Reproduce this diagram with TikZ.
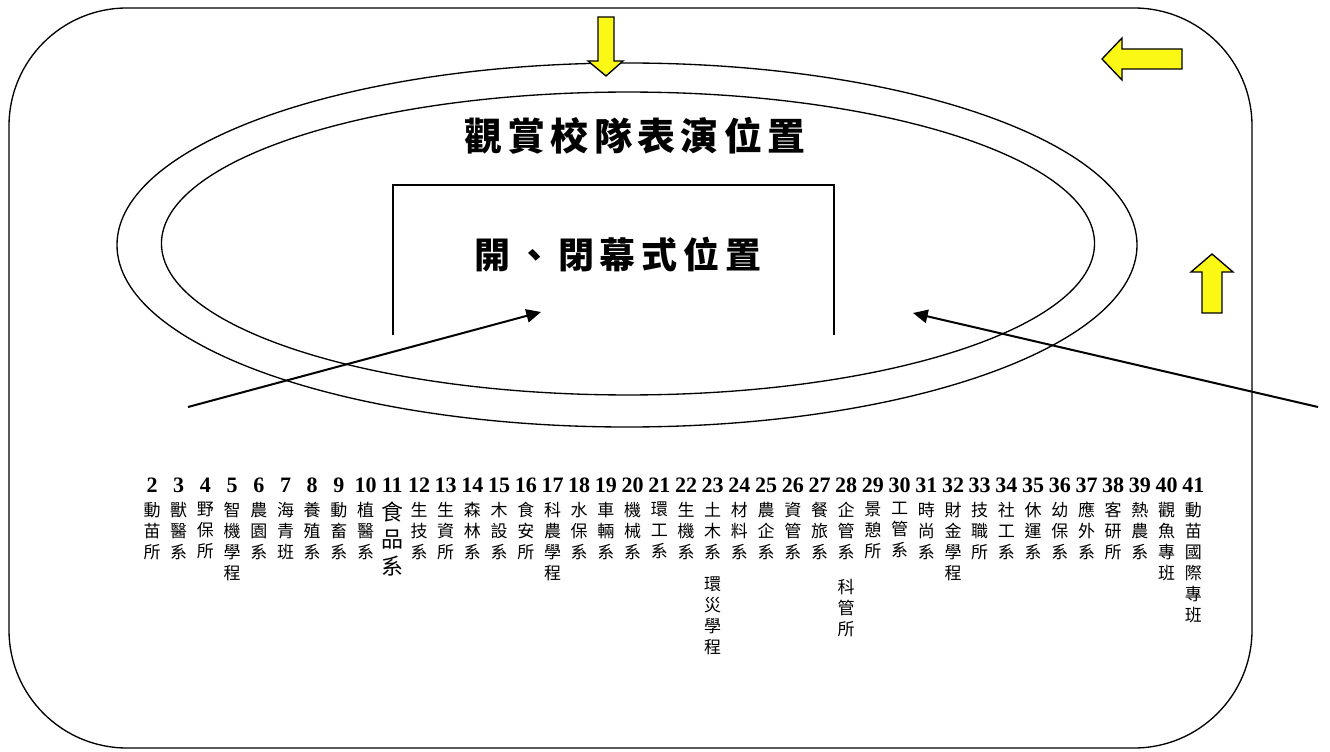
\documentclass[tikz,border=0pt]{standalone}
\usepackage{fontspec}
\newfontfamily\cjk{Noto Sans CJK TC}
\newfontfamily\numfont{Liberation Serif}
\usetikzlibrary{arrows.meta}
\definecolor{arrowyellow}{RGB}{250,248,20}
\tikzset{
  frame/.style={line width=1pt},
  track/.style={line width=1pt},
  pointer/.style={line width=1.5pt,-{Triangle[length=11pt,width=10pt]}},
  flowarrow/.style={fill=arrowyellow,draw=black,line width=1pt,line join=miter},
  titletext/.style={inner sep=0pt,anchor=base,font=\cjk\bfseries\fontsize{28.5pt}{34pt}\selectfont\addfontfeature{LetterSpace=14}},
  boxtext/.style={inner sep=0pt,anchor=base,font=\cjk\bfseries\fontsize{27pt}{32pt}\selectfont\addfontfeature{LetterSpace=16}},
  numtext/.style={inner sep=0pt,anchor=base,font=\numfont\bfseries\fontsize{16.5pt}{18pt}\selectfont},
  deptext/.style={inner sep=0pt,anchor=north,align=center,font=\cjk\fontsize{12.75pt}{15.75pt}\selectfont},
  bigdept/.style={inner sep=0pt,anchor=north,align=center,font=\cjk\fontsize{16.5pt}{20.25pt}\selectfont}
}
\begin{document}
\begin{tikzpicture}[x=0.75pt,y=-0.75pt]
\useasboundingbox (0,0) rectangle (1330,752);
% outer frame
\draw[frame,rounded corners=88.5pt] (9,8) rectangle (1252,748);
% tracks
\draw[track] (627,245) ellipse [x radius=382.5pt, y radius=136.5pt];
\draw[track] (628,243.5) ellipse [x radius=349.9pt, y radius=113.6pt];
% stage box (open at bottom)
\draw[track] (393,335) -- (393,185) -- (834,185) -- (834,335);
% titles
\node[titletext] (watch) at (635,151) {觀賞校隊表演位置};
\node[boxtext] (ceremony) at (618,268) {開、閉幕式位置};
% pointers
\coordinate (lstart) at (188,407);
\coordinate (lend) at (541,312);
\coordinate (rstart) at (1318,407);
\coordinate (rend) at (913,313);
\draw[pointer] (lstart) -- (lend);
\draw[pointer] (rstart) -- (rend);
% yellow direction arrows
\draw[flowarrow] (598,17) -- (614,17) -- (614,61) -- (623,61) -- (606,76) -- (588,61) -- (598,61) -- cycle;
\draw[flowarrow] (1182,49) -- (1122,49) -- (1122,38) -- (1102,59) -- (1122,80) -- (1122,69) -- (1182,69) -- cycle;
\draw[flowarrow] (1202,313) -- (1222,313) -- (1222,272) -- (1233,272) -- (1212,254) -- (1191,272) -- (1202,272) -- cycle;
% department columns
\foreach \n/\t in {2/{動\\苗\\所},3/{獸\\醫\\系},4/{野\\保\\所},5/{智\\機\\學\\程},6/{農\\園\\系},7/{海\\青\\班},8/{養\\殖\\系},9/{動\\畜\\系},10/{植\\醫\\系},
  12/{生\\技\\系},13/{生\\資\\所},14/{森\\林\\系},15/{木\\設\\系},16/{食\\安\\所},17/{科\\農\\學\\程},18/{水\\保\\系},19/{車\\輛\\系},20/{機\\械\\系},21/{環\\工\\系},
  22/{生\\機\\系},23/{土\\木\\系},24/{材\\料\\系},25/{農\\企\\系},26/{資\\管\\系},27/{餐\\旅\\系},28/{企\\管\\系},29/{景\\憩\\所},30/{工\\管\\系},31/{時\\尚\\系},
  32/{財\\金\\學\\程},33/{技\\職\\所},34/{社\\工\\系},35/{休\\運\\系},36/{幼\\保\\系},37/{應\\外\\系},38/{客\\研\\所},39/{熱\\農\\系},40/{觀\\魚\\專\\班},41/{動\\苗\\國\\際\\專\\班}}{
  \pgfmathsetmacro{\cx}{152+(\n-2)*26.7}
  \node[numtext] (num\n) at (\cx,492) {\n};
  \node[deptext] (dep\n) at (\cx,502) {\t};
}
\pgfmathsetmacro{\cxa}{152+9*26.7}
\node[numtext] (num11) at (\cxa,492) {11};
\node[bigdept] (dep11) at (\cxa,502) {食\\品\\系};
\pgfmathsetmacro{\cxb}{152+21*26.7}
\node[deptext] (dep23b) at (\cxb,577) {環\\災\\學\\程};
\pgfmathsetmacro{\cxc}{152+26*26.7}
\node[deptext] (dep28b) at (\cxc,579) {科\\管\\所};
\end{tikzpicture}
\end{document}
